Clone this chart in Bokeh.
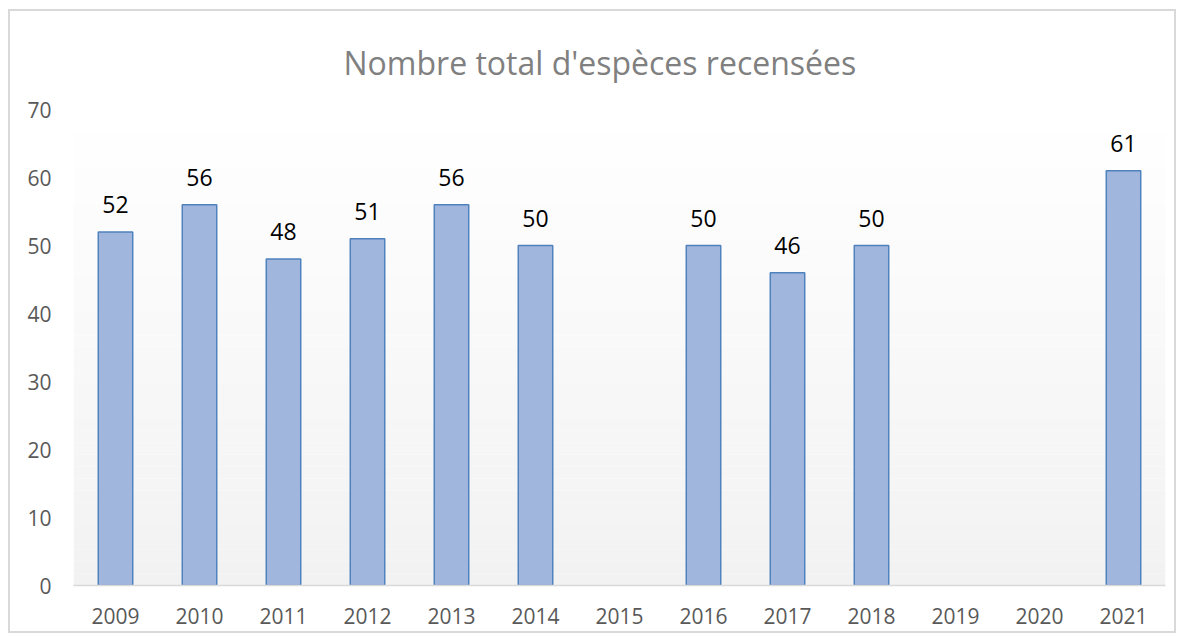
from bokeh.plotting import figure
from bokeh.models import ColumnDataSource, FactorRange, Range1d, SingleIntervalTicker, LabelSet, BoxAnnotation
from bokeh.core.properties import value
from bokeh.embed import file_html
from bokeh.resources import INLINE

# ---- data ----
years = ["2009", "2010", "2011", "2012", "2013", "2014", "2015",
         "2016", "2017", "2018", "2019", "2020", "2021"]
species = [52, 56, 48, 51, 56, 50, None, 50, 46, 50, None, None, 61]
title_text = "Nombre total d'espèces recensées"

FONT = "Open Sans"

xs = [y for y, v in zip(years, species) if v is not None]
vs = [v for v in species if v is not None]
src = ColumnDataSource(dict(x=xs, top=vs, lab=[str(v) for v in vs]))

p = figure(width=1168, height=624, x_range=FactorRange(*years, range_padding=0),
           y_range=Range1d(0, 70), output_backend="svg", toolbar_location=None,
           min_border_left=63, min_border_right=13, min_border_top=98, min_border_bottom=50)
p.styles = {"border": "2px solid #d9d9d9", "margin": "9px 0 0 8px"}

# title
p.title.text = title_text
p.title.align = "left"
p.title.text_font = FONT
p.title.text_font_size = "32px"
p.title.text_font_style = "normal"
p.title.text_color = "#808080"
p.title.offset = 270
p.title.standoff = 52

# background gradient (white at top to light gray at bottom)
nb = 40
for i in range(nb):
    frac = (i + 0.5) / nb  # 0 bottom, 1 top
    g = int(round(242 + 13 * frac))
    p.add_layout(BoxAnnotation(bottom=70 * i / nb, top=70 * (i + 1) / nb,
                               fill_color=f"#{g:02x}{g:02x}{g:02x}", fill_alpha=1,
                               line_alpha=0, level="image"))
p.background_fill_color = "#ffffff"
p.border_fill_color = "#ffffff"
p.outline_line_color = None

p.vbar(x="x", top="top", width=0.41, source=src, fill_color="#a0b6dc",
       line_color="#4f81bd", line_width=1.5)

labels = LabelSet(x="x", y="top", text="lab", source=src, text_align="center",
                  text_baseline="alphabetic", y_offset=19, text_font=value(FONT),
                  text_font_size=value("23px"), text_color="#000000")
p.add_layout(labels)

p.xgrid.visible = False
p.ygrid.visible = False

p.yaxis.ticker = SingleIntervalTicker(interval=10)
p.yaxis.axis_line_color = None
p.yaxis.major_tick_line_color = None
p.yaxis.minor_tick_line_color = None
p.yaxis.major_label_text_font = FONT
p.yaxis.major_label_text_font_size = "21px"
p.yaxis.major_label_text_color = "#595959"
p.yaxis.major_label_standoff = 16

p.xaxis.axis_line_color = "#d9d9d9"
p.xaxis.axis_line_width = 1.5
p.xaxis.major_tick_line_color = None
p.xaxis.minor_tick_line_color = None
p.xaxis.major_label_text_font = FONT
p.xaxis.major_label_text_font_size = "21px"
p.xaxis.major_label_text_color = "#595959"
p.xaxis.major_label_standoff = 16

open("out.html", "w").write(file_html(p, INLINE))
